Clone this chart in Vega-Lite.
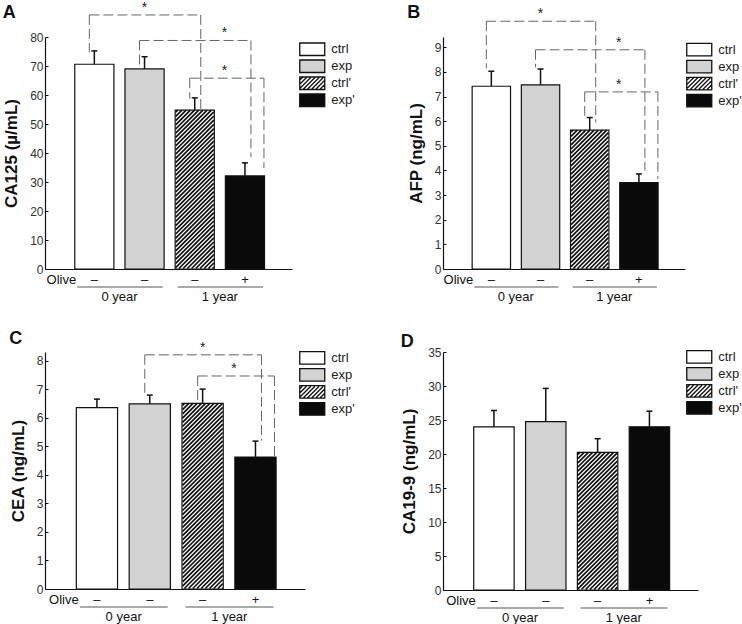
{
  "$schema": "https://vega.github.io/schema/vega-lite/v6.json",
  "background": "white",
  "padding": {"left": 2, "top": 0, "right": 0, "bottom": 0},
  "config": {
    "font": "Liberation Sans",
    "view": {"stroke": null},
    "axis": {"grid": false, "domainColor": "#111", "domainWidth": 1.2, "labelFont": "Liberation Sans", "titleFont": "Liberation Sans"},
    "axisY": {"labelFontSize": 12, "labelColor": "#333", "tickSize": -3, "tickColor": "#111", "labelPadding": 5, "labelOverlap": false, "titleFontSize": 17, "titleFontWeight": "bold", "titleColor": "#111", "titlePadding": 9},
    "axisX": {"labelFontSize": 13, "labelColor": "#111", "ticks": false, "labelPadding": 4, "labelAngle": 0},
    "title": {"anchor": "start", "frame": "bounds", "fontSize": 18, "fontWeight": "bold", "color": "#111", "font": "Liberation Sans"},
    "legend": {"symbolSize": 156.25, "symbolOffset": 6.25, "symbolStrokeColor": "#111", "symbolStrokeWidth": 1.3, "labelFont": "Liberation Sans", "labelFontSize": 13, "labelColor": "#222", "labelOffset": 12, "rowPadding": -1, "padding": 0}
  },
  "datasets": {
    "bars": [
      {"panel": "A", "group": "ctrl", "value": 70.6, "upper": 75.2},
      {"panel": "A", "group": "exp", "value": 69.0, "upper": 73.2},
      {"panel": "A", "group": "ctrl'", "value": 54.8, "upper": 59.0},
      {"panel": "A", "group": "exp'", "value": 32.1, "upper": 36.6},
      {"panel": "B", "group": "ctrl", "value": 7.42, "upper": 8.03},
      {"panel": "B", "group": "exp", "value": 7.48, "upper": 8.12},
      {"panel": "B", "group": "ctrl'", "value": 5.64, "upper": 6.15},
      {"panel": "B", "group": "exp'", "value": 3.51, "upper": 3.86},
      {"panel": "C", "group": "ctrl", "value": 6.35, "upper": 6.65},
      {"panel": "C", "group": "exp", "value": 6.48, "upper": 6.79},
      {"panel": "C", "group": "ctrl'", "value": 6.5, "upper": 7.0},
      {"panel": "C", "group": "exp'", "value": 4.62, "upper": 5.18},
      {"panel": "D", "group": "ctrl", "value": 24.0, "upper": 26.4},
      {"panel": "D", "group": "exp", "value": 24.75, "upper": 29.65},
      {"panel": "D", "group": "ctrl'", "value": 20.25, "upper": 22.25},
      {"panel": "D", "group": "exp'", "value": 24.0, "upper": 26.3}
    ],
    "brackets": [
      {"panel": "A", "from": "ctrl", "to": "ctrl'", "top": 87.6, "fromEnd": 74.8, "toEnd": 55.2, "star": "exp"},
      {"panel": "A", "from": "exp", "to": "exp'", "top": 78.8, "fromEnd": 70.5, "toEnd": 38.6},
      {"panel": "A", "from": "ctrl'", "to": "exp'", "top": 65.8, "fromEnd": 58.7, "toEnd": 34.8},
      {"panel": "B", "from": "ctrl", "to": "ctrl'", "top": 10.06, "fromEnd": 8.15, "toEnd": 5.95, "star": "exp"},
      {"panel": "B", "from": "exp", "to": "exp'", "top": 8.9, "fromEnd": 8.19, "toEnd": 4.0},
      {"panel": "B", "from": "ctrl'", "to": "exp'", "top": 7.19, "fromEnd": 6.1, "toEnd": 3.65},
      {"panel": "C", "from": "exp", "to": "exp'", "top": 8.2, "fromEnd": 6.8, "toEnd": 5.2, "star": "ctrl'"},
      {"panel": "C", "from": "ctrl'", "to": "exp'", "top": 7.46, "fromEnd": 6.5, "toEnd": 4.64}
    ],
    "years": [
      {"year": "0 year", "first": "ctrl", "last": "exp"},
      {"year": "1 year", "first": "ctrl'", "last": "exp'"}
    ]
  },
  "columns": 2,
  "bounds": "flush",
  "spacing": {"row": 83, "column": 138},
  "resolve": {"scale": {"fill": "independent"}, "legend": {"fill": "independent"}},
  "concat": [
    {
      "width": 247, "height": 232,
      "title": {"text": "A", "offset": -21},
      "layer": [
        {"data": {"name": "bars"}, "transform": [{"filter": "datum.panel === 'A'"}],
         "mark": {"type": "bar", "stroke": "#111", "strokeWidth": 1.2},
         "encoding": {
           "x": {"field": "group", "type": "nominal", "scale": {"domain": ["ctrl", "exp", "ctrl'", "exp'"], "paddingInner": 0.22, "paddingOuter": 0.57, "align": 0.52}, "axis": {"title": null, "labelExpr": "datum.value === \"exp'\" ? '+' : '–'"}},
           "y": {"field": "value", "type": "quantitative", "scale": {"domain": [0, 80], "nice": false}, "axis": {"title": "CA125 (µ/mL)", "values": [0, 10, 20, 30, 40, 50, 60, 70, 80], "tickCount": 9, "labelOverlap": false}},
           "fill": {"field": "group", "type": "nominal", "scale": {"domain": ["ctrl", "exp", "ctrl'", "exp'"], "range": ["#ffffff", "#d2d2d2", "#ffffff", "#0a0a0a"]},
             "legend": {"title": null, "orient": "none", "legendX": 254, "legendY": 5.25,
               "encode": {"symbols": {"update": {"stroke": {"value": "#111"}, "strokeWidth": {"value": 1.3}, "shape": {"signal": "datum.value === \"ctrl'\" ? 'M-2,-1H2V1H-2ZM-1.584,-0.92L-1.92,-0.584M-0.912,-0.92L-1.92,0.088M-0.24,-0.92L-1.92,0.76M0.432,-0.92L-1.408,0.92M1.104,-0.92L-0.736,0.92M1.776,-0.92L-0.064,0.92M1.92,-0.392L0.608,0.92M1.92,0.28L1.28,0.92' : 'M-2,-1H2V1H-2Z'"}}}}}}
         }},
        {"data": {"name": "bars"}, "transform": [{"filter": "datum.panel === 'A' && datum.group === \"ctrl'\""}],
         "mark": {"type": "point", "filled": false, "opacity": 1, "stroke": "#111", "strokeWidth": 1.7, "size": 4,
           "shape": "M-17,0l-2.1,2.1M-12.8,0l-6.3,6.3M-8.6,0l-10.5,10.5M-4.4,0l-14.7,14.7M-0.2,0l-18.9,18.9M4,0l-23.1,23.1M8.2,0l-27.3,27.3M12.4,0l-31.5,31.5M16.6,0l-35.7,35.7M19.1,1.7l-38.2,38.2m38.2,-34l-38.2,38.2m38.2,-34l-38.2,38.2m38.2,-34l-38.2,38.2m38.2,-34l-38.2,38.2m38.2,-34l-38.2,38.2m38.2,-34l-38.2,38.2m38.2,-34l-38.2,38.2m38.2,-34l-38.2,38.2m38.2,-34l-38.2,38.2m38.2,-34l-38.2,38.2m38.2,-34l-38.2,38.2m38.2,-34l-38.2,38.2m38.2,-34l-38.2,38.2m38.2,-34l-38.2,38.2m38.2,-34l-38.2,38.2m38.2,-34l-38.2,38.2m38.2,-34l-38.2,38.2m38.2,-34l-38.2,38.2m38.2,-34l-38.2,38.2m38.2,-34l-38.2,38.2m38.2,-34l-38.2,38.2m38.2,-34l-38.2,38.2m38.2,-34l-38.2,38.2m38.2,-34l-38.2,38.2m38.2,-34l-38.2,38.2m38.2,-34l-38.2,38.2m38.2,-34l-38.2,38.2m38.2,-34l-38.2,38.2M19.1,123.5l-34.9,34.9M19.1,127.7l-30.7,30.7M19.1,131.9l-26.5,26.5M19.1,136.1l-22.3,22.3M19.1,140.3l-18.1,18.1M19.1,144.5l-13.9,13.9M19.1,148.7l-9.7,9.7M19.1,152.9l-5.5,5.5M19.1,157.1l-1.3,1.3"},
         "encoding": {"x": {"field": "group", "type": "nominal"}, "y": {"field": "value", "type": "quantitative"}}},
        {"data": {"name": "bars"}, "transform": [{"filter": "datum.panel === 'A'"}],
         "mark": {"type": "rule", "stroke": "#111", "strokeWidth": 1.5},
         "encoding": {"x": {"field": "group", "type": "nominal"}, "y": {"field": "value", "type": "quantitative"}, "y2": {"field": "upper"}}},
        {"data": {"name": "bars"}, "transform": [{"filter": "datum.panel === 'A'"}],
         "mark": {"type": "tick", "color": "#111", "thickness": 1.5, "size": 6, "opacity": 1},
         "encoding": {"x": {"field": "group", "type": "nominal"}, "y": {"field": "upper", "type": "quantitative"}}},
        {"data": {"name": "brackets"}, "transform": [{"filter": "datum.panel === 'A' && datum.from !== \"ctrl'\""}],
         "mark": {"type": "rule", "stroke": "#666", "strokeWidth": 1, "strokeDash": [10, 4], "xOffset": -5, "x2Offset": 6},
         "encoding": {"x": {"field": "from", "type": "nominal"}, "x2": {"field": "to"}, "y": {"field": "top", "type": "quantitative"}}},
        {"data": {"name": "brackets"}, "transform": [{"filter": "datum.panel === 'A' && datum.from === \"ctrl'\""}],
         "mark": {"type": "rule", "stroke": "#666", "strokeWidth": 1, "strokeDash": [10, 4], "xOffset": -5, "x2Offset": 19},
         "encoding": {"x": {"field": "from", "type": "nominal"}, "x2": {"field": "to"}, "y": {"field": "top", "type": "quantitative"}}},
        {"data": {"name": "brackets"}, "transform": [{"filter": "datum.panel === 'A'"}],
         "mark": {"type": "rule", "stroke": "#666", "strokeWidth": 1, "strokeDash": [10, 4], "xOffset": -5},
         "encoding": {"x": {"field": "from", "type": "nominal"}, "y": {"field": "top", "type": "quantitative"}, "y2": {"field": "fromEnd"}}},
        {"data": {"name": "brackets"}, "transform": [{"filter": "datum.panel === 'A' && datum.from !== \"ctrl'\""}],
         "mark": {"type": "rule", "stroke": "#666", "strokeWidth": 1, "strokeDash": [10, 4], "xOffset": 6},
         "encoding": {"x": {"field": "to", "type": "nominal"}, "y": {"field": "top", "type": "quantitative"}, "y2": {"field": "toEnd"}}},
        {"data": {"name": "brackets"}, "transform": [{"filter": "datum.panel === 'A' && datum.from === \"ctrl'\""}],
         "mark": {"type": "rule", "stroke": "#666", "strokeWidth": 1, "strokeDash": [10, 4], "xOffset": 19},
         "encoding": {"x": {"field": "to", "type": "nominal"}, "y": {"field": "top", "type": "quantitative"}, "y2": {"field": "toEnd"}}},
        {"data": {"name": "brackets"}, "transform": [{"filter": "datum.panel === 'A' && datum.star"}],
         "mark": {"type": "text", "text": "*", "fontSize": 14, "baseline": "bottom", "color": "#222"},
         "encoding": {"x": {"field": "star", "type": "nominal"}, "y": {"field": "top", "type": "quantitative"}}},
        {"data": {"name": "brackets"}, "transform": [{"filter": "datum.panel === 'A' && !datum.star"}],
         "mark": {"type": "text", "text": "*", "fontSize": 14, "baseline": "bottom", "color": "#222", "xOffset": -1},
         "encoding": {"x": {"field": "to", "type": "nominal", "bandPosition": 0}, "y": {"field": "top", "type": "quantitative"}}},
        {"data": {"values": [{"label": "Olive"}]},
         "mark": {"type": "text", "fontSize": 13, "dx": -33, "dy": 11, "baseline": "middle", "color": "#111"},
         "encoding": {"x": {"datum": "ctrl"}, "y": {"datum": 0}, "text": {"field": "label"}}},
        {"data": {"name": "years"},
         "mark": {"type": "rule", "stroke": "#555", "strokeWidth": 1, "xOffset": -17, "x2Offset": 18, "yOffset": 18},
         "encoding": {"x": {"field": "first", "type": "nominal"}, "x2": {"field": "last"}, "y": {"datum": 0}}},
        {"data": {"name": "years"},
         "mark": {"type": "text", "fontSize": 13, "dy": 28, "xOffset": -5.5, "baseline": "middle", "color": "#111"},
         "encoding": {"x": {"field": "last", "type": "nominal", "bandPosition": 0}, "y": {"datum": 0}, "text": {"field": "year"}}}
      ]
    },
    {
      "width": 242, "height": 232,
      "title": {"text": "B", "offset": -15},
      "layer": [
        {"data": {"name": "bars"}, "transform": [{"filter": "datum.panel === 'B'"}],
         "mark": {"type": "bar", "stroke": "#111", "strokeWidth": 1.2},
         "encoding": {
           "x": {"field": "group", "type": "nominal", "scale": {"domain": ["ctrl", "exp", "ctrl'", "exp'"], "paddingInner": 0.22, "paddingOuter": 0.57, "align": 0.52}, "axis": {"title": null, "labelExpr": "datum.value === \"exp'\" ? '+' : '–'"}},
           "y": {"field": "value", "type": "quantitative", "scale": {"domain": [0, 9.42], "nice": false}, "axis": {"title": "AFP (ng/mL)", "values": [0, 1, 2, 3, 4, 5, 6, 7, 8, 9], "tickCount": 10, "labelOverlap": false}},
           "fill": {"field": "group", "type": "nominal", "scale": {"domain": ["ctrl", "exp", "ctrl'", "exp'"], "range": ["#ffffff", "#d2d2d2", "#ffffff", "#0a0a0a"]},
             "legend": {"title": null, "orient": "none", "legendX": 243, "legendY": 5.55,
               "encode": {"symbols": {"update": {"stroke": {"value": "#111"}, "strokeWidth": {"value": 1.3}, "shape": {"signal": "datum.value === \"ctrl'\" ? 'M-2,-1H2V1H-2ZM-1.584,-0.92L-1.92,-0.584M-0.912,-0.92L-1.92,0.088M-0.24,-0.92L-1.92,0.76M0.432,-0.92L-1.408,0.92M1.104,-0.92L-0.736,0.92M1.776,-0.92L-0.064,0.92M1.92,-0.392L0.608,0.92M1.92,0.28L1.28,0.92' : 'M-2,-1H2V1H-2Z'"}}}}}}
         }},
        {"data": {"name": "bars"}, "transform": [{"filter": "datum.panel === 'B' && datum.group === \"ctrl'\""}],
         "mark": {"type": "point", "filled": false, "opacity": 1, "stroke": "#111", "strokeWidth": 1.7, "size": 4,
           "shape": "M-16.6,0l-2.1,2.1M-12.4,0l-6.3,6.3M-8.2,0l-10.5,10.5M-4,0l-14.7,14.7M0.2,0l-18.9,18.9M4.4,0l-23.1,23.1M8.6,0l-27.3,27.3M12.8,0l-31.5,31.5M17,0l-35.7,35.7M18.7,2.5l-37.4,37.4m37.4,-33.2l-37.4,37.4m37.4,-33.2l-37.4,37.4m37.4,-33.2l-37.4,37.4m37.4,-33.2l-37.4,37.4m37.4,-33.2l-37.4,37.4m37.4,-33.2l-37.4,37.4m37.4,-33.2l-37.4,37.4m37.4,-33.2l-37.4,37.4m37.4,-33.2l-37.4,37.4m37.4,-33.2l-37.4,37.4m37.4,-33.2l-37.4,37.4m37.4,-33.2l-37.4,37.4m37.4,-33.2l-37.4,37.4m37.4,-33.2l-37.4,37.4m37.4,-33.2l-37.4,37.4m37.4,-33.2l-37.4,37.4m37.4,-33.2l-37.4,37.4m37.4,-33.2l-37.4,37.4m37.4,-33.2l-37.4,37.4m37.4,-33.2l-37.4,37.4m37.4,-33.2l-37.4,37.4m37.4,-33.2l-37.4,37.4m37.4,-33.2l-37.4,37.4M18.7,103.3l-35.1,35.1M18.7,107.5l-30.9,30.9M18.7,111.7l-26.7,26.7M18.7,115.9l-22.5,22.5M18.7,120.1l-18.3,18.3M18.7,124.3l-14.1,14.1M18.7,128.5l-9.9,9.9M18.7,132.7l-5.7,5.7M18.7,136.9l-1.5,1.5"},
         "encoding": {"x": {"field": "group", "type": "nominal"}, "y": {"field": "value", "type": "quantitative"}}},
        {"data": {"name": "bars"}, "transform": [{"filter": "datum.panel === 'B'"}],
         "mark": {"type": "rule", "stroke": "#111", "strokeWidth": 1.5},
         "encoding": {"x": {"field": "group", "type": "nominal"}, "y": {"field": "value", "type": "quantitative"}, "y2": {"field": "upper"}}},
        {"data": {"name": "bars"}, "transform": [{"filter": "datum.panel === 'B'"}],
         "mark": {"type": "tick", "color": "#111", "thickness": 1.5, "size": 6, "opacity": 1},
         "encoding": {"x": {"field": "group", "type": "nominal"}, "y": {"field": "upper", "type": "quantitative"}}},
        {"data": {"name": "brackets"}, "transform": [{"filter": "datum.panel === 'B' && datum.from !== \"ctrl'\""}],
         "mark": {"type": "rule", "stroke": "#666", "strokeWidth": 1, "strokeDash": [10, 4], "xOffset": -5, "x2Offset": 6},
         "encoding": {"x": {"field": "from", "type": "nominal"}, "x2": {"field": "to"}, "y": {"field": "top", "type": "quantitative"}}},
        {"data": {"name": "brackets"}, "transform": [{"filter": "datum.panel === 'B' && datum.from === \"ctrl'\""}],
         "mark": {"type": "rule", "stroke": "#666", "strokeWidth": 1, "strokeDash": [10, 4], "xOffset": -5, "x2Offset": 19},
         "encoding": {"x": {"field": "from", "type": "nominal"}, "x2": {"field": "to"}, "y": {"field": "top", "type": "quantitative"}}},
        {"data": {"name": "brackets"}, "transform": [{"filter": "datum.panel === 'B'"}],
         "mark": {"type": "rule", "stroke": "#666", "strokeWidth": 1, "strokeDash": [10, 4], "xOffset": -5},
         "encoding": {"x": {"field": "from", "type": "nominal"}, "y": {"field": "top", "type": "quantitative"}, "y2": {"field": "fromEnd"}}},
        {"data": {"name": "brackets"}, "transform": [{"filter": "datum.panel === 'B' && datum.from !== \"ctrl'\""}],
         "mark": {"type": "rule", "stroke": "#666", "strokeWidth": 1, "strokeDash": [10, 4], "xOffset": 6},
         "encoding": {"x": {"field": "to", "type": "nominal"}, "y": {"field": "top", "type": "quantitative"}, "y2": {"field": "toEnd"}}},
        {"data": {"name": "brackets"}, "transform": [{"filter": "datum.panel === 'B' && datum.from === \"ctrl'\""}],
         "mark": {"type": "rule", "stroke": "#666", "strokeWidth": 1, "strokeDash": [10, 4], "xOffset": 19},
         "encoding": {"x": {"field": "to", "type": "nominal"}, "y": {"field": "top", "type": "quantitative"}, "y2": {"field": "toEnd"}}},
        {"data": {"name": "brackets"}, "transform": [{"filter": "datum.panel === 'B' && datum.star"}],
         "mark": {"type": "text", "text": "*", "fontSize": 14, "baseline": "bottom", "color": "#222"},
         "encoding": {"x": {"field": "star", "type": "nominal"}, "y": {"field": "top", "type": "quantitative"}}},
        {"data": {"name": "brackets"}, "transform": [{"filter": "datum.panel === 'B' && !datum.star"}],
         "mark": {"type": "text", "text": "*", "fontSize": 14, "baseline": "bottom", "color": "#222", "xOffset": -1},
         "encoding": {"x": {"field": "to", "type": "nominal", "bandPosition": 0}, "y": {"field": "top", "type": "quantitative"}}},
        {"data": {"values": [{"label": "Olive"}]},
         "mark": {"type": "text", "fontSize": 13, "dx": -33, "dy": 11, "baseline": "middle", "color": "#111"},
         "encoding": {"x": {"datum": "ctrl"}, "y": {"datum": 0}, "text": {"field": "label"}}},
        {"data": {"name": "years"},
         "mark": {"type": "rule", "stroke": "#555", "strokeWidth": 1, "xOffset": -17, "x2Offset": 18, "yOffset": 18},
         "encoding": {"x": {"field": "first", "type": "nominal"}, "x2": {"field": "last"}, "y": {"datum": 0}}},
        {"data": {"name": "years"},
         "mark": {"type": "text", "fontSize": 13, "dy": 28, "xOffset": -5.5, "baseline": "middle", "color": "#111"},
         "encoding": {"x": {"field": "last", "type": "nominal", "bandPosition": 0}, "y": {"datum": 0}, "text": {"field": "year"}}}
      ]
    },
    {
      "width": 260, "height": 237,
      "title": {"text": "C", "offset": -7},
      "layer": [
        {"data": {"name": "bars"}, "transform": [{"filter": "datum.panel === 'C'"}],
         "mark": {"type": "bar", "stroke": "#111", "strokeWidth": 1.2},
         "encoding": {
           "x": {"field": "group", "type": "nominal", "scale": {"domain": ["ctrl", "exp", "ctrl'", "exp'"], "paddingInner": 0.22, "paddingOuter": 0.57, "align": 0.52}, "axis": {"title": null, "labelExpr": "datum.value === \"exp'\" ? '+' : '–'"}},
           "y": {"field": "value", "type": "quantitative", "scale": {"domain": [0, 8.3], "nice": false}, "axis": {"title": "CEA (ng/mL)", "values": [0, 1, 2, 3, 4, 5, 6, 7, 8], "tickCount": 9, "labelOverlap": false}},
           "fill": {"field": "group", "type": "nominal", "scale": {"domain": ["ctrl", "exp", "ctrl'", "exp'"], "range": ["#ffffff", "#d2d2d2", "#ffffff", "#0a0a0a"]},
             "legend": {"title": null, "orient": "none", "legendX": 254, "legendY": -1.05,
               "encode": {"symbols": {"update": {"stroke": {"value": "#111"}, "strokeWidth": {"value": 1.3}, "shape": {"signal": "datum.value === \"ctrl'\" ? 'M-2,-1H2V1H-2ZM-1.584,-0.92L-1.92,-0.584M-0.912,-0.92L-1.92,0.088M-0.24,-0.92L-1.92,0.76M0.432,-0.92L-1.408,0.92M1.104,-0.92L-0.736,0.92M1.776,-0.92L-0.064,0.92M1.92,-0.392L0.608,0.92M1.92,0.28L1.28,0.92' : 'M-2,-1H2V1H-2Z'"}}}}}}
         }},
        {"data": {"name": "bars"}, "transform": [{"filter": "datum.panel === 'C' && datum.group === \"ctrl'\""}],
         "mark": {"type": "point", "filled": false, "opacity": 1, "stroke": "#111", "strokeWidth": 1.7, "size": 4,
           "shape": "M-18,0l-2.1,2.1M-13.8,0l-6.3,6.3M-9.6,0l-10.5,10.5M-5.4,0l-14.7,14.7M-1.2,0l-18.9,18.9M3,0l-23.1,23.1M7.2,0l-27.3,27.3M11.4,0l-31.5,31.5M15.6,0l-35.7,35.7M19.8,0l-39.9,39.9M20.1,3.9l-40.2,40.2M20.1,8.1l-40.2,40.2M20.1,12.3l-40.2,40.2M20.1,16.5l-40.2,40.2M20.1,20.7l-40.2,40.2M20.1,24.9l-40.2,40.2M20.1,29.1l-40.2,40.2M20.1,33.3l-40.2,40.2M20.1,37.5l-40.2,40.2M20.1,41.7l-40.2,40.2M20.1,45.9l-40.2,40.2M20.1,50.1l-40.2,40.2M20.1,54.3l-40.2,40.2M20.1,58.5l-40.2,40.2M20.1,62.7l-40.2,40.2M20.1,66.9l-40.2,40.2M20.1,71.1l-40.2,40.2M20.1,75.3l-40.2,40.2M20.1,79.5l-40.2,40.2M20.1,83.7l-40.2,40.2M20.1,87.9l-40.2,40.2M20.1,92.1l-40.2,40.2M20.1,96.3l-40.2,40.2M20.1,100.5l-40.2,40.2M20.1,104.7l-40.2,40.2M20.1,108.9l-40.2,40.2M20.1,113.1l-40.2,40.2M20.1,117.3l-40.2,40.2M20.1,121.5l-40.2,40.2M20.1,125.7l-40.2,40.2M20.1,129.9l-40.2,40.2M20.1,134.1l-40.2,40.2M20.1,138.3l-40.2,40.2M20.1,142.5l-40.2,40.2M20.1,146.7l-38.4,38.4M20.1,150.9l-34.2,34.2M20.1,155.1l-30,30M20.1,159.3l-25.8,25.8M20.1,163.5l-21.6,21.6M20.1,167.7l-17.4,17.4M20.1,171.9l-13.2,13.2M20.1,176.1l-9,9M20.1,180.3l-4.8,4.8M20.1,184.5l-0.6,0.6"},
         "encoding": {"x": {"field": "group", "type": "nominal"}, "y": {"field": "value", "type": "quantitative"}}},
        {"data": {"name": "bars"}, "transform": [{"filter": "datum.panel === 'C'"}],
         "mark": {"type": "rule", "stroke": "#111", "strokeWidth": 1.5},
         "encoding": {"x": {"field": "group", "type": "nominal"}, "y": {"field": "value", "type": "quantitative"}, "y2": {"field": "upper"}}},
        {"data": {"name": "bars"}, "transform": [{"filter": "datum.panel === 'C'"}],
         "mark": {"type": "tick", "color": "#111", "thickness": 1.5, "size": 6, "opacity": 1},
         "encoding": {"x": {"field": "group", "type": "nominal"}, "y": {"field": "upper", "type": "quantitative"}}},
        {"data": {"name": "brackets"}, "transform": [{"filter": "datum.panel === 'C' && datum.from !== \"ctrl'\""}],
         "mark": {"type": "rule", "stroke": "#666", "strokeWidth": 1, "strokeDash": [10, 4], "xOffset": -5, "x2Offset": 6},
         "encoding": {"x": {"field": "from", "type": "nominal"}, "x2": {"field": "to"}, "y": {"field": "top", "type": "quantitative"}}},
        {"data": {"name": "brackets"}, "transform": [{"filter": "datum.panel === 'C' && datum.from === \"ctrl'\""}],
         "mark": {"type": "rule", "stroke": "#666", "strokeWidth": 1, "strokeDash": [10, 4], "xOffset": -5, "x2Offset": 19},
         "encoding": {"x": {"field": "from", "type": "nominal"}, "x2": {"field": "to"}, "y": {"field": "top", "type": "quantitative"}}},
        {"data": {"name": "brackets"}, "transform": [{"filter": "datum.panel === 'C'"}],
         "mark": {"type": "rule", "stroke": "#666", "strokeWidth": 1, "strokeDash": [10, 4], "xOffset": -5},
         "encoding": {"x": {"field": "from", "type": "nominal"}, "y": {"field": "top", "type": "quantitative"}, "y2": {"field": "fromEnd"}}},
        {"data": {"name": "brackets"}, "transform": [{"filter": "datum.panel === 'C' && datum.from !== \"ctrl'\""}],
         "mark": {"type": "rule", "stroke": "#666", "strokeWidth": 1, "strokeDash": [10, 4], "xOffset": 6},
         "encoding": {"x": {"field": "to", "type": "nominal"}, "y": {"field": "top", "type": "quantitative"}, "y2": {"field": "toEnd"}}},
        {"data": {"name": "brackets"}, "transform": [{"filter": "datum.panel === 'C' && datum.from === \"ctrl'\""}],
         "mark": {"type": "rule", "stroke": "#666", "strokeWidth": 1, "strokeDash": [10, 4], "xOffset": 19},
         "encoding": {"x": {"field": "to", "type": "nominal"}, "y": {"field": "top", "type": "quantitative"}, "y2": {"field": "toEnd"}}},
        {"data": {"name": "brackets"}, "transform": [{"filter": "datum.panel === 'C' && datum.star"}],
         "mark": {"type": "text", "text": "*", "fontSize": 14, "baseline": "bottom", "color": "#222"},
         "encoding": {"x": {"field": "star", "type": "nominal"}, "y": {"field": "top", "type": "quantitative"}}},
        {"data": {"name": "brackets"}, "transform": [{"filter": "datum.panel === 'C' && !datum.star"}],
         "mark": {"type": "text", "text": "*", "fontSize": 14, "baseline": "bottom", "color": "#222", "xOffset": -1},
         "encoding": {"x": {"field": "to", "type": "nominal", "bandPosition": 0}, "y": {"field": "top", "type": "quantitative"}}},
        {"data": {"values": [{"label": "Olive"}]},
         "mark": {"type": "text", "fontSize": 13, "dx": -33, "dy": 11, "baseline": "middle", "color": "#111"},
         "encoding": {"x": {"datum": "ctrl"}, "y": {"datum": 0}, "text": {"field": "label"}}},
        {"data": {"name": "years"},
         "mark": {"type": "rule", "stroke": "#555", "strokeWidth": 1, "xOffset": -17, "x2Offset": 18, "yOffset": 18},
         "encoding": {"x": {"field": "first", "type": "nominal"}, "x2": {"field": "last"}, "y": {"datum": 0}}},
        {"data": {"name": "years"},
         "mark": {"type": "text", "fontSize": 13, "dy": 28, "xOffset": -5.5, "baseline": "middle", "color": "#111"},
         "encoding": {"x": {"field": "last", "type": "nominal", "bandPosition": 0}, "y": {"datum": 0}, "text": {"field": "year"}}}
      ]
    },
    {
      "width": 255, "height": 238,
      "title": {"text": "D", "offset": -5},
      "layer": [
        {"data": {"name": "bars"}, "transform": [{"filter": "datum.panel === 'D'"}],
         "mark": {"type": "bar", "stroke": "#111", "strokeWidth": 1.2},
         "encoding": {
           "x": {"field": "group", "type": "nominal", "scale": {"domain": ["ctrl", "exp", "ctrl'", "exp'"], "paddingInner": 0.22, "paddingOuter": 0.57, "align": 0.52}, "axis": {"title": null, "labelExpr": "datum.value === \"exp'\" ? '+' : '–'"}},
           "y": {"field": "value", "type": "quantitative", "scale": {"domain": [0, 35], "nice": false}, "axis": {"title": "CA19-9 (ng/mL)", "values": [0, 5, 10, 15, 20, 25, 30, 35], "tickCount": 8, "labelOverlap": false}},
           "fill": {"field": "group", "type": "nominal", "scale": {"domain": ["ctrl", "exp", "ctrl'", "exp'"], "range": ["#ffffff", "#d2d2d2", "#ffffff", "#0a0a0a"]},
             "legend": {"title": null, "orient": "none", "legendX": 243, "legendY": -2.05,
               "encode": {"symbols": {"update": {"stroke": {"value": "#111"}, "strokeWidth": {"value": 1.3}, "shape": {"signal": "datum.value === \"ctrl'\" ? 'M-2,-1H2V1H-2ZM-1.584,-0.92L-1.92,-0.584M-0.912,-0.92L-1.92,0.088M-0.24,-0.92L-1.92,0.76M0.432,-0.92L-1.408,0.92M1.104,-0.92L-0.736,0.92M1.776,-0.92L-0.064,0.92M1.92,-0.392L0.608,0.92M1.92,0.28L1.28,0.92' : 'M-2,-1H2V1H-2Z'"}}}}}}
         }},
        {"data": {"name": "bars"}, "transform": [{"filter": "datum.panel === 'D' && datum.group === \"ctrl'\""}],
         "mark": {"type": "point", "filled": false, "opacity": 1, "stroke": "#111", "strokeWidth": 1.7, "size": 4,
           "shape": "M-17.6,0l-2.1,2.1M-13.4,0l-6.3,6.3M-9.2,0l-10.5,10.5M-5,0l-14.7,14.7M-0.8,0l-18.9,18.9M3.4,0l-23.1,23.1M7.6,0l-27.3,27.3M11.8,0l-31.5,31.5M16,0l-35.7,35.7M19.7,0.5l-39.4,39.4m39.4,-35.2l-39.4,39.4m39.4,-35.2l-39.4,39.4m39.4,-35.2l-39.4,39.4m39.4,-35.2l-39.4,39.4m39.4,-35.2l-39.4,39.4m39.4,-35.2l-39.4,39.4m39.4,-35.2l-39.4,39.4m39.4,-35.2l-39.4,39.4m39.4,-35.2l-39.4,39.4m39.4,-35.2l-39.4,39.4m39.4,-35.2l-39.4,39.4m39.4,-35.2l-39.4,39.4m39.4,-35.2l-39.4,39.4m39.4,-35.2l-39.4,39.4m39.4,-35.2l-39.4,39.4m39.4,-35.2l-39.4,39.4m39.4,-35.2l-39.4,39.4m39.4,-35.2l-39.4,39.4m39.4,-35.2l-39.4,39.4m39.4,-35.2l-39.4,39.4m39.4,-35.2l-39.4,39.4m39.4,-35.2l-39.4,39.4m39.4,-35.2l-39.4,39.4M19.7,101.3l-35.9,35.9M19.7,105.5l-31.7,31.7M19.7,109.7l-27.5,27.5M19.7,113.9l-23.3,23.3M19.7,118.1l-19.1,19.1M19.7,122.3l-14.9,14.9M19.7,126.5l-10.7,10.7M19.7,130.7l-6.5,6.5M19.7,134.9l-2.3,2.3"},
         "encoding": {"x": {"field": "group", "type": "nominal"}, "y": {"field": "value", "type": "quantitative"}}},
        {"data": {"name": "bars"}, "transform": [{"filter": "datum.panel === 'D'"}],
         "mark": {"type": "rule", "stroke": "#111", "strokeWidth": 1.5},
         "encoding": {"x": {"field": "group", "type": "nominal"}, "y": {"field": "value", "type": "quantitative"}, "y2": {"field": "upper"}}},
        {"data": {"name": "bars"}, "transform": [{"filter": "datum.panel === 'D'"}],
         "mark": {"type": "tick", "color": "#111", "thickness": 1.5, "size": 6, "opacity": 1},
         "encoding": {"x": {"field": "group", "type": "nominal"}, "y": {"field": "upper", "type": "quantitative"}}},
        {"data": {"values": [{"label": "Olive"}]},
         "mark": {"type": "text", "fontSize": 13, "dx": -33, "dy": 11, "baseline": "middle", "color": "#111"},
         "encoding": {"x": {"datum": "ctrl"}, "y": {"datum": 0}, "text": {"field": "label"}}},
        {"data": {"name": "years"},
         "mark": {"type": "rule", "stroke": "#555", "strokeWidth": 1, "xOffset": -17, "x2Offset": 18, "yOffset": 18},
         "encoding": {"x": {"field": "first", "type": "nominal"}, "x2": {"field": "last"}, "y": {"datum": 0}}},
        {"data": {"name": "years"},
         "mark": {"type": "text", "fontSize": 13, "dy": 28, "xOffset": -5.5, "baseline": "middle", "color": "#111"},
         "encoding": {"x": {"field": "last", "type": "nominal", "bandPosition": 0}, "y": {"datum": 0}, "text": {"field": "year"}}}
      ]
    }
  ]
}
